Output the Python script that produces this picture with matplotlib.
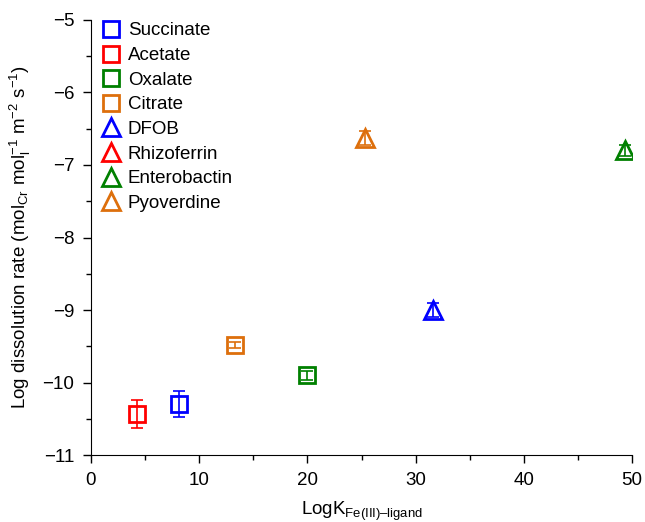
import numpy as np
import matplotlib
matplotlib.use("Agg")
from matplotlib import pyplot as plt

plt.rcParams['font.family'] = ['Liberation Sans', 'DejaVu Sans']
plt.rcParams['mathtext.fontset'] = 'custom'
plt.rcParams['mathtext.rm'] = 'Liberation Sans'
plt.rcParams['mathtext.it'] = 'Liberation Sans'
plt.rcParams['mathtext.default'] = 'regular'

# ligand data: log K Fe(III)-ligand, log dissolution rate, error
ligands = ['Succinate', 'Acetate', 'Oxalate', 'Citrate',
           'DFOB', 'Rhizoferrin', 'Enterobactin', 'Pyoverdine']
logk = [8.1, 4.3, 20.0, 13.3, 31.6, np.nan, 49.3, 25.3]
rate = [-10.30, -10.43, -9.90, -9.48, -9.00, np.nan, -6.80, -6.63]
err = [0.18, 0.19, 0.06, 0.04, 0.10, np.nan, 0.08, 0.10]
colors = ['#0000ff', '#ff0000', '#008000', '#dd6f0c',
          '#0000ff', '#ff0000', '#008000', '#dd6f0c']
markers = ['s', 's', 's', 's', '^', '^', '^', '^']

fig = plt.figure(figsize=(6.45, 5.22), dpi=100)
ax = fig.add_axes([0.141, 0.128, 0.839, 0.834])

handles = []
for i in range(len(ligands)):
    ms = 11 if markers[i] == 's' else 13
    h, = ax.plot([logk[i]], [rate[i]], markers[i], color=colors[i],
                 mfc='white', mec=colors[i], mew=2, ms=ms, zorder=2,
                 label=ligands[i])
    handles.append(h)
    # error bars drawn over the open markers
    ax.errorbar([logk[i]], [rate[i]], yerr=[err[i]], fmt='none',
                ecolor=colors[i], capsize=4, elinewidth=1.2, capthick=1.2,
                zorder=3)

ax.set_xlim(0, 50)
ax.set_ylim(-11, -5)
ax.set_xticks([0, 10, 20, 30, 40, 50])
ax.set_xticks(np.arange(0, 51, 5), minor=True)
ax.set_yticks(np.arange(-11, -4, 1))
ax.set_yticks(np.arange(-11, -4.9, 0.5), minor=True)
ax.spines['top'].set_visible(False)
ax.spines['right'].set_visible(False)
ax.tick_params(which='major', direction='out', length=6, width=1,
               labelsize=13.5, pad=6)
ax.tick_params(which='minor', direction='out', length=3.5, width=1)

ax.set_xlabel('LogK$_{Fe(III)\u2013ligand}$', fontsize=13.5, labelpad=8)
ax.set_ylabel('Log dissolution rate (mol$_{Cr}$ mol$_{l}^{-1}$ m$^{-2}$ s$^{-1}$)',
              fontsize=13.5, labelpad=7)

ax.legend(handles=handles, loc='upper left', bbox_to_anchor=(-0.02, 1.033),
          frameon=False, fontsize=13.5, handletextpad=0.15, labelspacing=0.4,
          handlelength=1.5)

fig.savefig('out.png', dpi=100)
